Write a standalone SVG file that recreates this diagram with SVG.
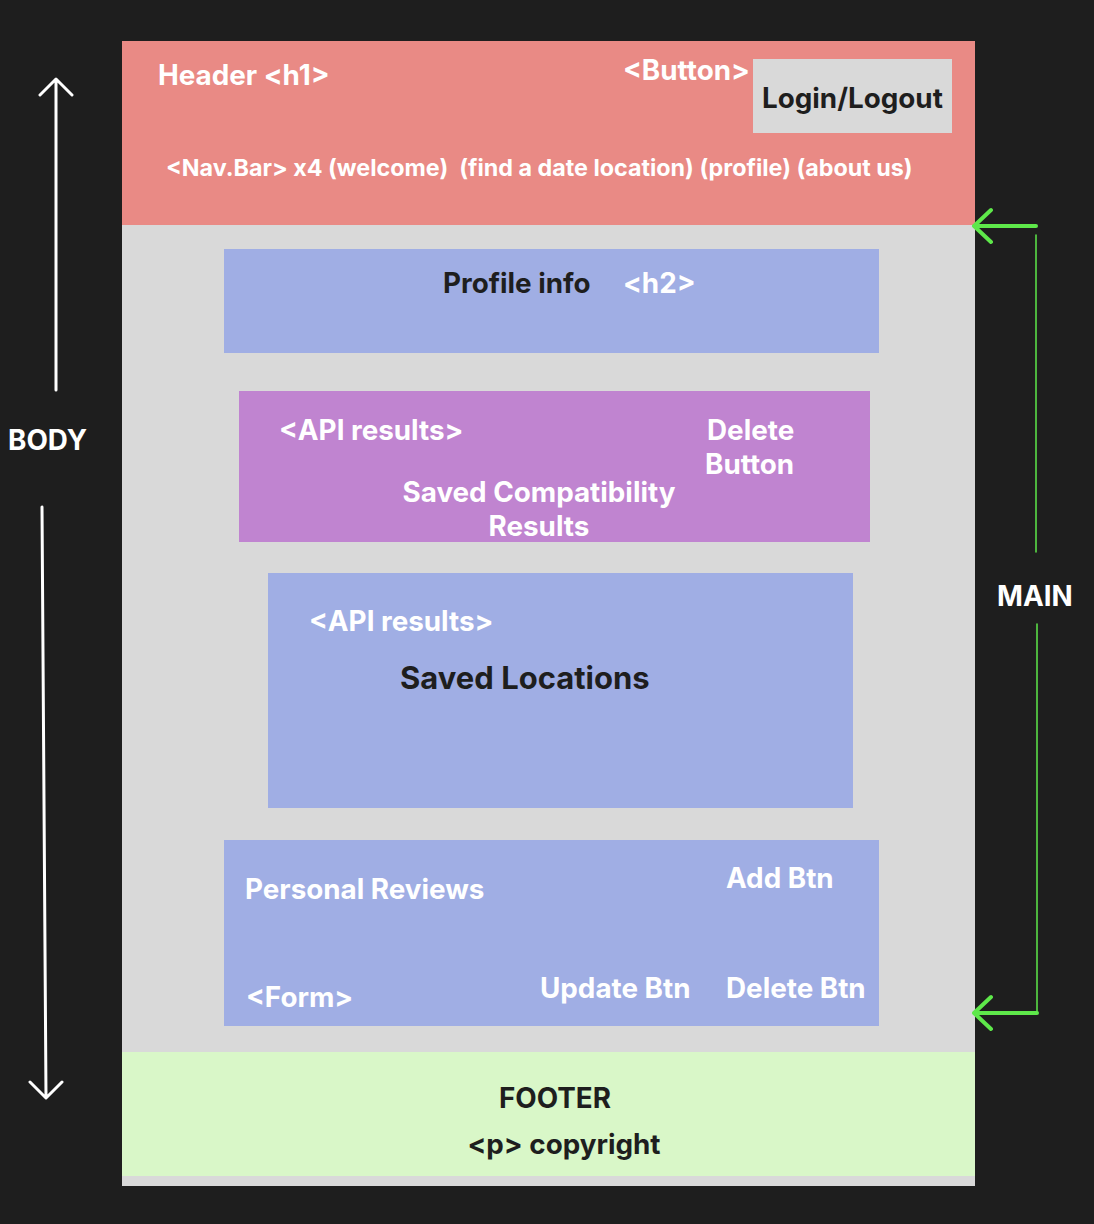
<svg xmlns="http://www.w3.org/2000/svg" width="1094" height="1224" viewBox="0 0 1094 1224">
<style>
text{font-family:Inter,"Liberation Sans",sans-serif;font-weight:700}
.w{fill:#ffffff}
.d{fill:#1e1e1e}
.l{font-size:27.8px}
.m{font-size:23.3px}
.blue{fill:#a0aee4}
</style>
<rect width="1094" height="1224" fill="#1e1e1e"/>
<g id="body"><rect x="122" y="41" width="853" height="1145" fill="#d9d9d9"/></g>
<g id="header">
<rect x="122" y="41" width="853" height="184" fill="#e98a85"/>
<text class="w l" x="158" y="85">Header &lt;h1&gt;</text>
<text class="w l" x="623" y="80">&lt;Button&gt;</text>
<text class="w m" x="166" y="176" xml:space="preserve">&lt;Nav.Bar&gt; x4 (welcome)  (find a date location) (profile) (about us)</text>
</g>
<g id="login">
<rect x="753" y="59" width="199" height="74" fill="#d9d9d9"/>
<text class="d l" x="762" y="108">Login/Logout</text>
</g>
<g id="profile">
<rect class="blue" x="224" y="249" width="655" height="104"/>
<text class="d l" x="443" y="293">Profile info</text>
<text class="w l" x="623" y="293">&lt;h2&gt;</text>
</g>
<g id="compat">
<rect x="239" y="391" width="631" height="151" fill="#c084d0"/>
<text class="w l" x="279" y="440">&lt;API results&gt;</text>
<text class="w l" x="707" y="440">Delete</text>
<text class="w l" x="705" y="474">Button</text>
<text class="w l" x="539" y="502" text-anchor="middle">Saved Compatibility</text>
<text class="w l" x="539" y="536" text-anchor="middle">Results</text>
</g>
<g id="locations">
<rect class="blue" x="268" y="573" width="585" height="235"/>
<text class="w l" x="309" y="631">&lt;API results&gt;</text>
<text class="d" x="400" y="689" font-size="31">Saved Locations</text>
</g>
<g id="reviews">
<rect class="blue" x="224" y="840" width="655" height="186"/>
<text class="w l" x="245" y="899">Personal Reviews</text>
<text class="w l" x="726" y="888">Add Btn</text>
<text class="w l" x="246" y="1007">&lt;Form&gt;</text>
<text class="w l" x="540" y="998">Update Btn</text>
<text class="w l" x="726" y="998">Delete Btn</text>
</g>
<g id="footer">
<rect x="122" y="1052" width="853" height="124" fill="#d9f7c8"/>
<text class="d l" x="555" y="1108" text-anchor="middle">FOOTER</text>
<text class="d l" x="564" y="1154" text-anchor="middle">&lt;p&gt; copyright</text>
</g>
<g id="labels">
<text class="w l" x="8" y="450">BODY</text>
<text class="w l" x="997" y="606">MAIN</text>
</g>
<g id="connectors" fill="none" stroke-linecap="round" stroke-linejoin="round">
<g stroke="#ffffff" stroke-width="3">
<path d="M56 390 V80 M40 95 L56 79 L72 95"/>
<path d="M42 507 L46 1097 M30 1082 L46 1098 L62 1082"/>
</g>
<g stroke="#5ee84a">
<path d="M1036 226 H974 M991 210 L974 226 L991 242" stroke-width="4"/>
<path d="M1036 235 V552" stroke-width="1.5"/>
<path d="M1037 624 V1013" stroke-width="1.5"/>
<path d="M1037 1013 H974 M991 997 L974 1013 L991 1029" stroke-width="4"/>
</g>
</g>
</svg>
